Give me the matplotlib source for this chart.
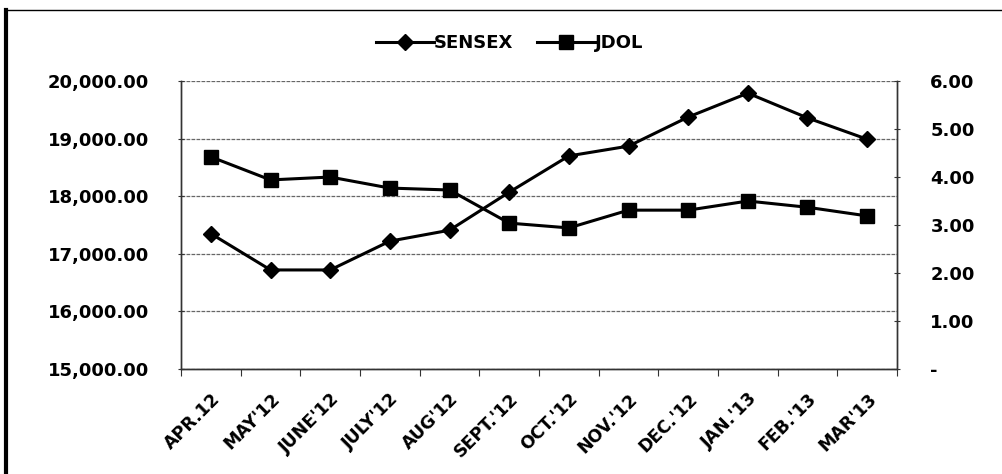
import matplotlib
matplotlib.use("Agg")
import matplotlib.pyplot as plt
from matplotlib.lines import Line2D
from matplotlib.ticker import FuncFormatter

months = ["APR.12", "MAY'12", "JUNE'12", "JULY'12", "AUG'12", "SEPT.'12",
          "OCT.'12", "NOV.'12", "DEC.'12", "JAN.'13", "FEB.'13", "MAR'13"]
sensex = [17350, 16720, 16720, 17220, 17410, 18070,
          18700, 18870, 19375, 19790, 19360, 18990]
jdol = [4.42, 3.94, 4.00, 3.77, 3.73, 3.04,
        2.94, 3.31, 3.31, 3.50, 3.37, 3.19]

plt.rcParams['font.family'] = ['DejaVu Sans']
plt.rcParams['font.weight'] = 'bold'

fig = plt.figure(figsize=(10.03, 4.74), dpi=100)
ax = fig.add_axes([0.1805, 0.2215, 0.7138, 0.6075])
ax2 = ax.twinx()

x = list(range(len(months)))
l1, = ax.plot(x, sensex, color='black', lw=2.2, marker='D', ms=8, label='SENSEX')
l2, = ax2.plot(x, jdol, color='black', lw=2.2, marker='s', ms=10, label='JDOL')

ax.set_xlim(-0.5, len(months) - 0.5)
ax.set_ylim(15000, 20000)
ax2.set_ylim(0, 6)
ax.set_yticks(range(15000, 20001, 1000))
ax2.set_yticks(range(0, 7))
ax.yaxis.set_major_formatter(FuncFormatter(lambda v, p: f"{v:,.2f}"))
ax2.yaxis.set_major_formatter(FuncFormatter(lambda v, p: "-" if v == 0 else f"{v:.2f}"))

# category boundaries get the tick marks, labels sit at the centres
ax.set_xticks([i - 0.5 for i in range(len(months) + 1)], minor=False)
ax.set_xticklabels([])
ax.set_xticks(x, minor=True)
ax.set_xticklabels(months, minor=True, rotation=45, ha='right',
                   rotation_mode='anchor', fontsize=12.5, fontweight='bold')
ax.tick_params(axis='x', which='minor', length=0, pad=15)
ax.tick_params(axis='x', which='major', length=5, direction='out', color='#333333')

ax.tick_params(axis='y', labelsize=13, length=4, direction='inout', pad=21, color='#333333')
ax2.tick_params(axis='y', labelsize=13, length=4, direction='inout', pad=22, color='#333333')

ax.yaxis.grid(True, color='#666666', lw=0.9, linestyle=(0, (3, 1)))
ax.set_axisbelow(True)
for a in (ax, ax2):
    a.spines['top'].set_visible(False)
    for s in ('left', 'right', 'bottom'):
        a.spines[s].set_color('#333333')
        a.spines[s].set_linewidth(1.0)
        a.spines[s].set_linestyle((0, (2, 1)))

fig.legend(handles=[l1, l2], loc='center', bbox_to_anchor=(0.508, 0.909), ncol=2,
           frameon=False, prop={'size': 13, 'weight': 'bold'},
           handlelength=3.2, handletextpad=0.0, columnspacing=1.3)

# scanned page frame
fig.add_artist(Line2D([0.006, 0.006], [0.0, 0.978], transform=fig.transFigure,
                      color='black', lw=3))
fig.add_artist(Line2D([0.006, 1.0], [0.978, 0.978], transform=fig.transFigure,
                      color='black', lw=1))

fig.savefig('out.png', dpi=100)
